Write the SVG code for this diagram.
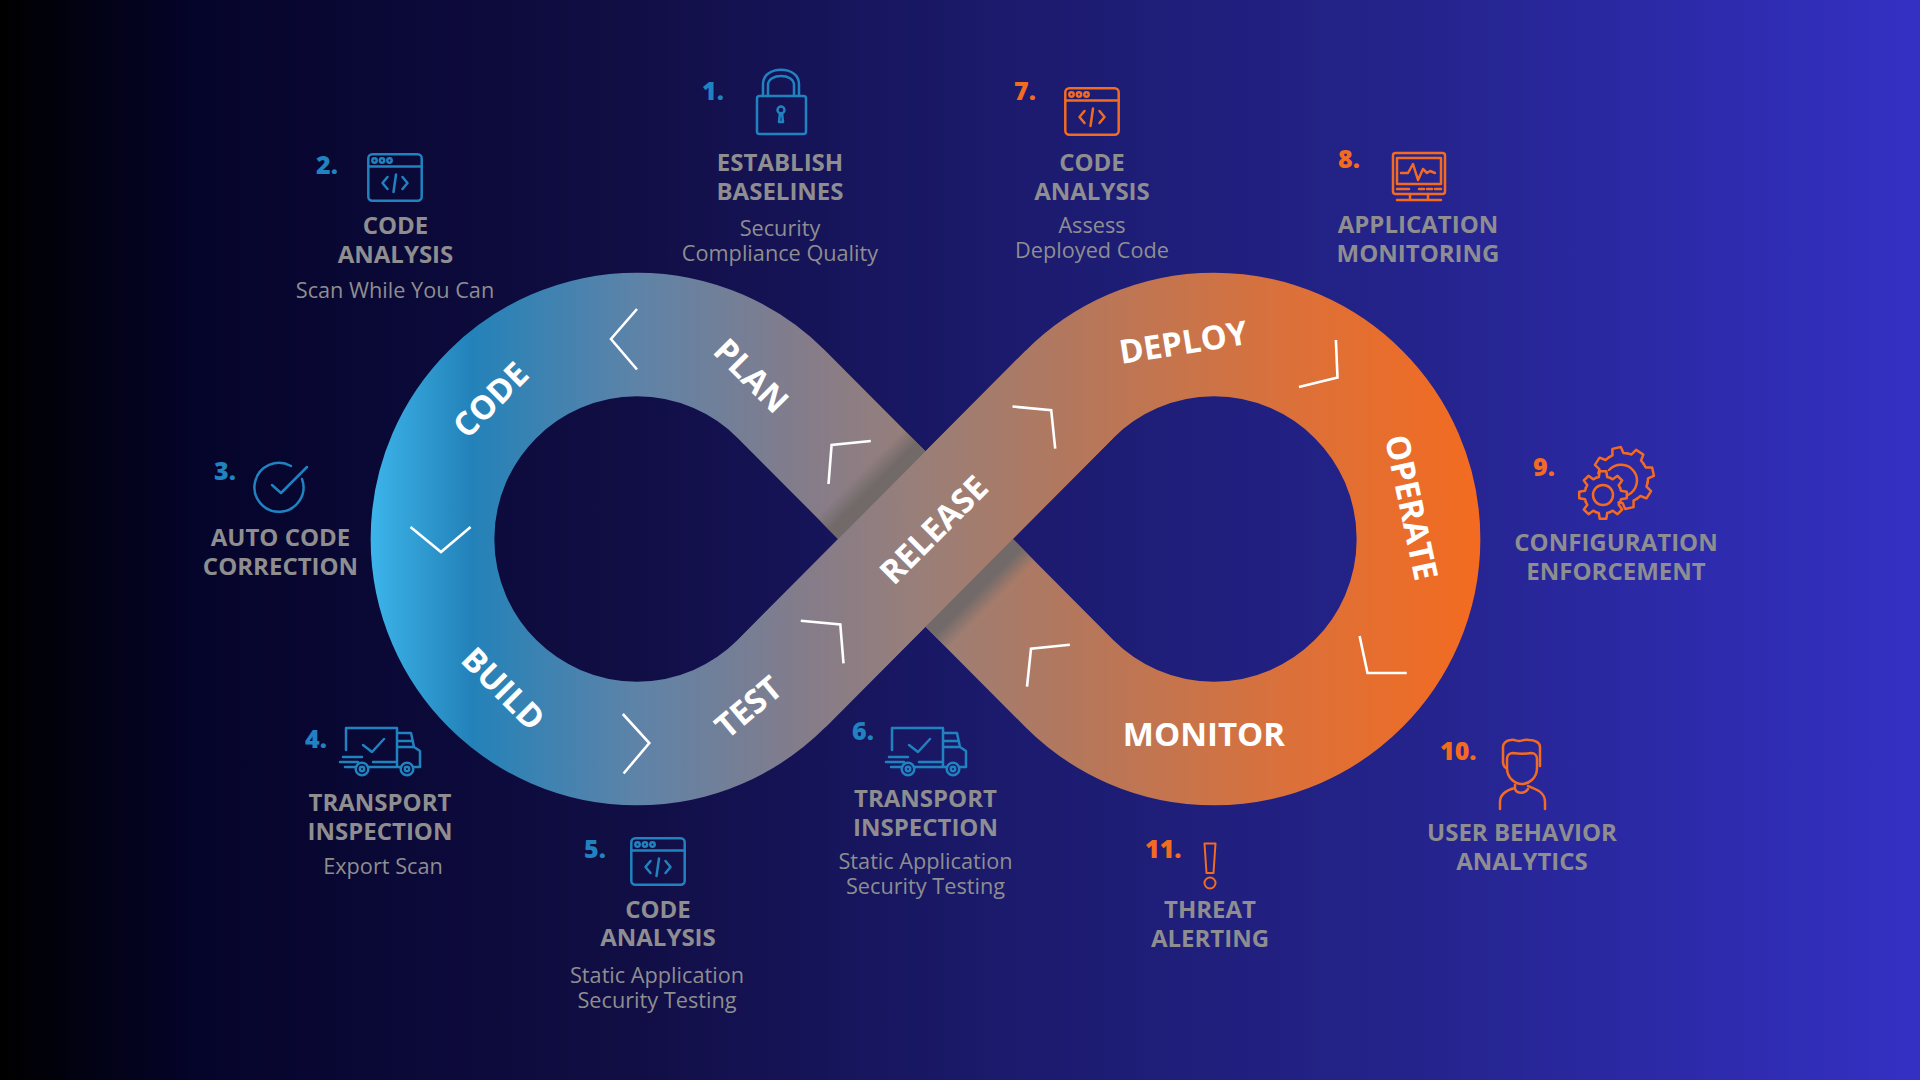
<svg xmlns="http://www.w3.org/2000/svg" xmlns:xlink="http://www.w3.org/1999/xlink" width="1920" height="1080" viewBox="0 0 1920 1080">
  <style>
    text { font-family: "Open Sans", "Noto Sans", "Liberation Sans", sans-serif; }
    .title { font-size: 24px; font-weight: 700; fill: #8e8e90; text-anchor: middle; }
    .sub { font-size: 21.7px; font-weight: 400; fill: #8e8e90; text-anchor: middle; }
    .num { font-size: 25px; font-weight: 800; }
    .blue { color: #2182c0; fill: #2182c0; }
    .orange { color: #f26b21; fill: #f26b21; }
    .ico { fill: none; stroke: currentColor; stroke-width: 2.5; stroke-linecap: round; stroke-linejoin: round; }
    .stage { font-size: 33px; font-weight: 700; fill: #ffffff; text-anchor: middle; }
    .chev { fill: none; stroke: #ffffff; stroke-width: 2.6; }
  </style>
  <defs>
    <linearGradient id="bg" gradientUnits="userSpaceOnUse" x1="0" y1="0" x2="1920" y2="0">
      <stop offset="0" stop-color="#000000"/>
      <stop offset="0.1" stop-color="#05042a"/>
      <stop offset="0.33" stop-color="#110e45"/>
      <stop offset="0.52" stop-color="#1b1a6c"/>
      <stop offset="0.75" stop-color="#25248e"/>
      <stop offset="1" stop-color="#3430c4"/>
    </linearGradient>
    <linearGradient id="band" gradientUnits="userSpaceOnUse" x1="371" y1="0" x2="1480" y2="0">
      <stop offset="0" stop-color="#3cb4ea"/>
      <stop offset="0.09" stop-color="#2382b9"/>
      <stop offset="0.24" stop-color="#5e83a8"/>
      <stop offset="0.385" stop-color="#837c8b"/>
      <stop offset="0.5" stop-color="#9a7f78"/>
      <stop offset="0.62" stop-color="#b1785f"/>
      <stop offset="0.84" stop-color="#dd7038"/>
      <stop offset="1" stop-color="#f36b20"/>
    </linearGradient>
    <linearGradient id="fold" gradientUnits="userSpaceOnUse" x1="-93" y1="0" x2="93" y2="0">
      <stop offset="0" stop-color="#716a69" stop-opacity="0"/>
      <stop offset="0.1" stop-color="#716a69"/>
      <stop offset="0.9" stop-color="#716a69"/>
      <stop offset="1" stop-color="#716a69" stop-opacity="0"/>
    </linearGradient>
    <g id="i-window" class="ico">
      <rect x="1.3" y="1.3" width="53.4" height="46.4" rx="4"/>
      <path d="M1.3 13.5H54.7M20.5 24L15.5 30L20.5 36M35.5 24L40.5 30L35.5 36M29 21.5L26.5 39"/>
      <circle cx="7.5" cy="7.5" r="2.2"/>
      <circle cx="15" cy="7.5" r="2.2"/>
      <circle cx="22.5" cy="7.5" r="2.2"/>
    </g>
    <g id="i-truck" class="ico">
      <path d="M6 24V2H57V41M33 36H57M3 31H22M0 36H18M5 41H16M28 41H61M57 7H71L74 21L80 25V41H73M57 15H73M57 21H74"/>
      <circle cx="22" cy="43" r="6.3"/>
      <circle cx="22" cy="43" r="2.2"/>
      <circle cx="67" cy="43" r="6.3"/>
      <circle cx="67" cy="43" r="2.2"/>
      <path d="M23 19L32 26L44 13"/>
    </g>
    <path id="tooth-big" d="M23.1 -9.57L24.4 -5.6L30.7 -4.3V4.3L24.4 5.6L23.1 9.57"/>
    <path id="tooth-small" d="M17.1 -7.08L18 -4.2L23.8 -3.3V3.3L18 4.2L17.1 7.08"/>
  </defs>

  <rect id="backdrop" width="1920" height="1080" fill="url(#bg)"/>

  <g id="connectors">
    <path d="M781.6 683.6A204.5 204.5 0 1 1 781.6 394.4L1069.4 683.6A204.5 204.5 0 1 0 1069.4 394.4Z" fill="none" stroke="url(#band)" stroke-width="123.7"/>
    <g transform="translate(925.5 539) rotate(45)">
      <rect x="-93" y="-61.85" width="186" height="123.7" fill="url(#fold)"/>
    </g>
    <path d="M781.6 683.6L1069.4 394.4" fill="none" stroke="url(#band)" stroke-width="123.7"/>
    <path class="chev" d="M637 309L611 339L637 369.5"/>
    <path class="chev" d="M410.5 527L441 552L470.6 527"/>
    <path class="chev" d="M870.8 441L831.6 445L828.5 484"/>
    <path class="chev" d="M622.8 714L649.3 743L623.6 773.5"/>
    <path class="chev" d="M800.8 620.7L840.3 624.4L843.5 663.3"/>
    <path class="chev" d="M1012.5 406.5L1051.2 410.2L1055.2 448.7"/>
    <path class="chev" d="M1335.9 340L1337.5 377.6L1299 386.9"/>
    <path class="chev" d="M1359.6 636L1367.5 673L1406.7 673"/>
    <path class="chev" d="M1069.8 644.7L1031 648.8L1027 686.6"/>
  </g>

  <g id="stages">
    <text class="stage" transform="translate(499 408) rotate(-45)">CODE</text>
    <text class="stage" transform="translate(495 697) rotate(45)">BUILD</text>
    <text class="stage" transform="translate(743 384) rotate(45)">PLAN</text>
    <text class="stage" transform="translate(756 716) rotate(-40)">TEST</text>
    <text class="stage" transform="translate(942 538) rotate(-45)">RELEASE</text>
    <text class="stage" transform="translate(1185 354) rotate(-9)">DEPLOY</text>
    <text class="stage" transform="translate(1400 510) rotate(78)">OPERATE</text>
    <text class="stage" x="1204" y="746">MONITOR</text>
  </g>

  <g id="node-1" class="blue">
    <text class="num" x="702" y="100">1.</text>
    <g class="ico">
      <rect x="757" y="96" width="49" height="38" rx="2.5"/>
      <path d="M763 96V84C763 65 799 65 799 84V96M768 96V85C768 73 794 73 794 85V96"/>
      <circle cx="781" cy="110" r="3.5"/>
      <path d="M780 113L779 122H783L782 113"/>
    </g>
    <text class="title" x="780" y="171">ESTABLISH</text>
    <text class="title" x="780" y="200">BASELINES</text>
    <text class="sub" x="780" y="236">Security</text>
    <text class="sub" x="780" y="261">Compliance Quality</text>
  </g>

  <g id="node-2" class="blue">
    <text class="num" x="316" y="174">2.</text>
    <use xlink:href="#i-window" href="#i-window" x="367" y="153"/>
    <text class="title" x="395.5" y="234">CODE</text>
    <text class="title" x="395.5" y="263">ANALYSIS</text>
    <text class="sub" x="395" y="298">Scan While You Can</text>
  </g>

  <g id="node-3" class="blue">
    <text class="num" x="214" y="480">3.</text>
    <g class="ico">
      <path d="M302 479A24.5 24.5 0 1 1 291 466"/>
      <path d="M272 485L281 493L307 467"/>
    </g>
    <text class="title" x="280.5" y="546">AUTO CODE</text>
    <text class="title" x="280.5" y="575">CORRECTION</text>
  </g>

  <g id="node-4" class="blue">
    <text class="num" x="305" y="748">4.</text>
    <use xlink:href="#i-truck" href="#i-truck" x="340" y="726"/>
    <text class="title" x="380" y="811">TRANSPORT</text>
    <text class="title" x="380" y="840">INSPECTION</text>
    <text class="sub" x="383" y="874">Export Scan</text>
  </g>

  <g id="node-5" class="blue">
    <text class="num" x="584" y="858">5.</text>
    <use xlink:href="#i-window" href="#i-window" x="630" y="837"/>
    <text class="title" x="658" y="918">CODE</text>
    <text class="title" x="658" y="946">ANALYSIS</text>
    <text class="sub" x="657" y="983">Static Application</text>
    <text class="sub" x="657" y="1008">Security Testing</text>
  </g>

  <g id="node-6" class="blue">
    <text class="num" x="852" y="740">6.</text>
    <use xlink:href="#i-truck" href="#i-truck" x="886" y="726"/>
    <text class="title" x="925.5" y="807">TRANSPORT</text>
    <text class="title" x="925.5" y="836">INSPECTION</text>
    <text class="sub" x="925.5" y="869">Static Application</text>
    <text class="sub" x="925.5" y="894">Security Testing</text>
  </g>

  <g id="node-7" class="orange">
    <text class="num" x="1014" y="100">7.</text>
    <use xlink:href="#i-window" href="#i-window" x="1064" y="87"/>
    <text class="title" x="1092" y="171">CODE</text>
    <text class="title" x="1092" y="200">ANALYSIS</text>
    <text class="sub" x="1092" y="233">Assess</text>
    <text class="sub" x="1092" y="258">Deployed Code</text>
  </g>

  <g id="node-8" class="orange">
    <text class="num" x="1338" y="168">8.</text>
    <g class="ico" transform="translate(1392 152)">
      <rect x="1" y="1" width="52" height="41" rx="2.5"/>
      <rect x="5" y="6" width="44" height="26"/>
      <path d="M9 21H16L21 12L26 28L31 17L35 21L38 19L43 21M5 37H17M27 37H32M35 37H40M43 37H49M18 42V48M36 42V48M5 48H49"/>
    </g>
    <text class="title" x="1418" y="233">APPLICATION</text>
    <text class="title" x="1418" y="262">MONITORING</text>
  </g>

  <g id="node-9" class="orange">
    <text class="num" x="1533" y="476">9.</text>
    <g class="ico" transform="translate(1623 478) rotate(-12)">
      <use xlink:href="#tooth-big" href="#tooth-big" transform="rotate(-135)"/>
      <use xlink:href="#tooth-big" href="#tooth-big" transform="rotate(-90)"/>
      <use xlink:href="#tooth-big" href="#tooth-big" transform="rotate(-45)"/>
      <use xlink:href="#tooth-big" href="#tooth-big"/>
      <use xlink:href="#tooth-big" href="#tooth-big" transform="rotate(45)"/>
      <use xlink:href="#tooth-big" href="#tooth-big" transform="rotate(90)"/>
    </g>
    <path class="ico" d="M1609 470A16 16 0 1 1 1628 495"/>
    <g class="ico" transform="translate(1603 495)">
      <use xlink:href="#tooth-small" href="#tooth-small"/>
      <use xlink:href="#tooth-small" href="#tooth-small" transform="rotate(45)"/>
      <use xlink:href="#tooth-small" href="#tooth-small" transform="rotate(90)"/>
      <use xlink:href="#tooth-small" href="#tooth-small" transform="rotate(135)"/>
      <use xlink:href="#tooth-small" href="#tooth-small" transform="rotate(180)"/>
      <use xlink:href="#tooth-small" href="#tooth-small" transform="rotate(225)"/>
      <use xlink:href="#tooth-small" href="#tooth-small" transform="rotate(270)"/>
      <use xlink:href="#tooth-small" href="#tooth-small" transform="rotate(315)"/>
      <circle r="10"/>
    </g>
    <text class="title" x="1616" y="551">CONFIGURATION</text>
    <text class="title" x="1616" y="580">ENFORCEMENT</text>
  </g>

  <g id="node-10" class="orange">
    <text class="num" x="1440" y="760">10.</text>
    <g class="ico" transform="translate(1498 738)">
      <path d="M8 30C5 28 5 26 5 24V9C5 5 9 2 13 2C16 1 18 3 21 3C24 3 27 1 31 2C36 2 42 4 42 9V28"/>
      <path d="M9 21C9 17 12 15 15 15C21 16 27 16 33 15C37 15 39 18 39 21V30C39 40 31 46 24 46C17 46 9 40 9 30Z"/>
      <path d="M17 47V50C9 52 2 56 2 64V71M17 51C19 56 27 56 30 51M30 48C38 51 47 54 47 64V71"/>
    </g>
    <text class="title" x="1522" y="841">USER BEHAVIOR</text>
    <text class="title" x="1522" y="870">ANALYTICS</text>
  </g>

  <g id="node-11" class="orange">
    <text class="num" x="1145" y="858">11.</text>
    <g class="ico" style="stroke-width:2">
      <path d="M1204.5 843.5H1215.5L1213.5 873H1206.5Z"/>
      <circle cx="1210" cy="883" r="5.5"/>
    </g>
    <text class="title" x="1210" y="918">THREAT</text>
    <text class="title" x="1210" y="947">ALERTING</text>
  </g>
</svg>
